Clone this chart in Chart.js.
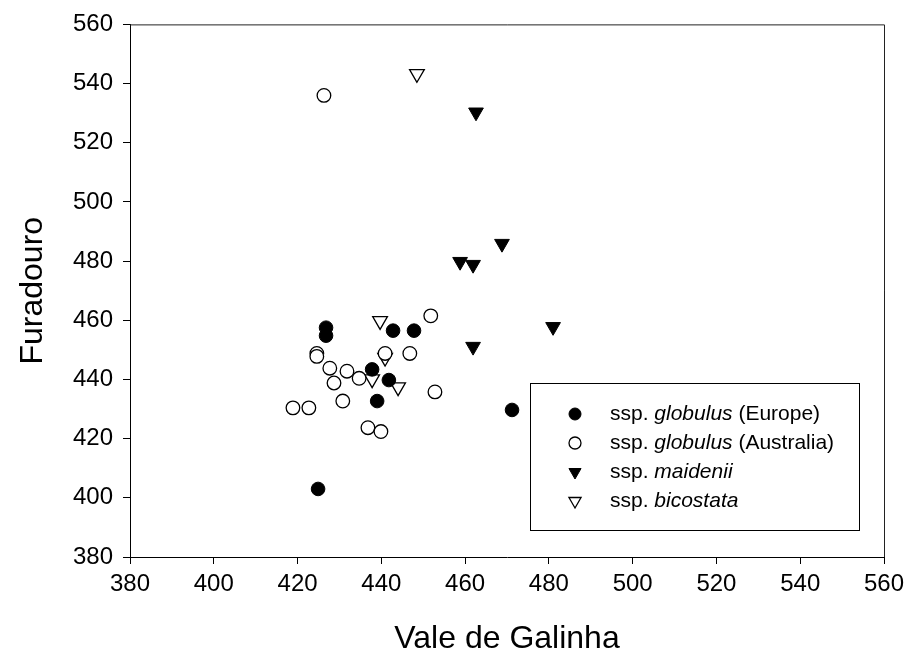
<!DOCTYPE html>
<html>
<head>
<meta charset="utf-8">
<script src="https://cdn.jsdelivr.net/npm/chart.js@4"></script>
<style>
  html, body { margin: 0; padding: 0; background: #fff; }
  #wrap { width: 913px; height: 663px; }
</style>
</head>
<body>
<div id="wrap"><canvas id="myChart" width="913" height="663"></canvas></div>
<script>
// valores
const europeX = [426.8, 426.8, 442.8, 447.8, 437.8, 441.8, 439.0, 471.2, 424.9];
const europeY = [457.5, 454.8, 456.5, 456.5, 443.4, 439.8, 432.7, 429.7, 403.0];

const australiaX = [426.3, 451.8, 424.6, 424.6, 427.7, 431.8, 428.7, 434.7, 440.9, 446.8, 430.8, 452.8, 418.9, 422.7, 436.8, 439.9];
const australiaY = [536.0, 461.5, 448.8, 447.8, 443.8, 442.8, 438.8, 440.4, 448.8, 448.8, 432.7, 435.8, 430.4, 430.4, 423.7, 422.4];

const maideniiX = [462.6, 468.8, 458.8, 461.9, 481.0, 461.9];
const maideniiY = [530.3, 485.9, 479.8, 478.8, 457.8, 451.1];

const bicostataX = [448.5, 439.7, 440.9, 437.8, 444.0];
const bicostataY = [543.3, 459.8, 447.4, 440.1, 437.4];

const axisTicks = [380, 400, 420, 440, 460, 480, 500, 520, 540, 560];

// texto de la leyenda, [texto, cursiva]
const legendLabels = [
  [["ssp. ", false], ["globulus", true], [" (Europe)", false]],
  [["ssp. ", false], ["globulus", true], [" (Australia)", false]],
  [["ssp. ", false], ["maidenii", true]],
  [["ssp. ", false], ["bicostata", true]]
];

const FONT = "'Liberation Sans', Arial, sans-serif";

function puntos(xs, ys) {
  return xs.map((x, i) => ({ x: x, y: ys[i] }));
}

const styles = [
  { pointStyle: 'circle', rotation: 0, radius: 6.8, backgroundColor: '#000', borderColor: '#000', borderWidth: 1 },
  { pointStyle: 'circle', rotation: 0, radius: 6.8, backgroundColor: '#fff', borderColor: '#000', borderWidth: 1.3 },
  { pointStyle: 'triangle', rotation: 180, radius: 8.5, backgroundColor: '#000', borderColor: '#000', borderWidth: 1 },
  { pointStyle: 'triangle', rotation: 180, radius: 8.5, backgroundColor: '#fff', borderColor: '#000', borderWidth: 1.3 }
];

const series = [
  puntos(europeX, europeY),
  puntos(australiaX, australiaY),
  puntos(maideniiX, maideniiY),
  puntos(bicostataX, bicostataY)
];

// caja del grafico y leyenda
const boxPlugin = {
  id: 'boxPlugin',
  afterDraw(chart) {
    const ctx = chart.ctx;
    const a = chart.chartArea;
    ctx.save();
    ctx.strokeStyle = '#222';
    ctx.lineWidth = 1;
    ctx.beginPath();
    ctx.moveTo(a.left, a.top + 0.5);
    ctx.lineTo(a.right + 0.5, a.top + 0.5);
    ctx.lineTo(a.right + 0.5, a.bottom);
    ctx.stroke();

    // leyenda
    const bx = a.right - 354, by = a.bottom - 174, bw = 329, bh = 147;
    ctx.fillStyle = '#fff';
    ctx.fillRect(bx, by, bw, bh);
    ctx.strokeStyle = '#000';
    ctx.strokeRect(bx + 0.5, by + 0.5, bw, bh);

    legendLabels.forEach((parts, i) => {
      const y = by + 31 + i * 29;
      const st = styles[i];
      ctx.fillStyle = st.backgroundColor;
      ctx.strokeStyle = st.borderColor;
      ctx.lineWidth = st.borderWidth;
      Chart.helpers.drawPoint(ctx, {
        pointStyle: st.pointStyle,
        rotation: st.rotation,
        radius: st.pointStyle === 'circle' ? 6 : 7,
        borderWidth: st.borderWidth
      }, bx + 45, y);
      let x = bx + 80;
      ctx.fillStyle = '#000';
      ctx.textBaseline = 'middle';
      ctx.textAlign = 'left';
      parts.forEach(p => {
        ctx.font = (p[1] ? 'italic ' : '') + '21px ' + FONT;
        ctx.fillText(p[0], x, y);
        x += ctx.measureText(p[0]).width;
      });
    });
    ctx.restore();
  }
};

const ejeComun = {
  type: 'linear',
  min: 380,
  max: 560,
  afterBuildTicks(scale) {
    scale.ticks = axisTicks.map(v => ({ value: v }));
  },
  grid: { drawOnChartArea: false, drawTicks: true, tickLength: 7, color: '#000' },
  border: { display: true, color: '#000', width: 1 }
};

const myChart = new Chart("myChart", {
  type: "scatter",
  data: {
    datasets: series.map((d, i) => Object.assign({
      data: d,
      pointRadius: styles[i].radius,
      pointHoverRadius: styles[i].radius,
      pointStyle: styles[i].pointStyle,
      rotation: styles[i].rotation,
      pointBackgroundColor: styles[i].backgroundColor,
      pointBorderColor: styles[i].borderColor,
      pointBorderWidth: styles[i].borderWidth
    }))
  },
  options: {
    responsive: false,
    animation: false,
    devicePixelRatio: 1,
    layout: { padding: { top: 18, right: 29, left: 0, bottom: 0 } },
    plugins: {
      legend: { display: false },
      tooltip: { enabled: false }
    },
    scales: {
      x: Object.assign({}, ejeComun, {
        position: 'bottom',
        ticks: { color: '#000', padding: 6, maxRotation: 0, font: { family: FONT, size: 24 } },
        title: { display: true, text: 'Vale de Galinha', color: '#000', padding: { top: 0, bottom: 5 }, font: { family: FONT, size: 32 } },
        afterFit(scale) { scale.height = 106; }
      }),
      y: Object.assign({}, ejeComun, {
        position: 'left',
        ticks: { color: '#000', padding: 10, font: { family: FONT, size: 24 } },
        title: { display: true, text: 'Furadouro', color: '#000', padding: { top: 14, bottom: 0 }, font: { family: FONT, size: 32 } },
        afterFit(scale) { scale.width = 130; }
      })
    }
  },
  plugins: [boxPlugin]
});
</script>
</body>
</html>
